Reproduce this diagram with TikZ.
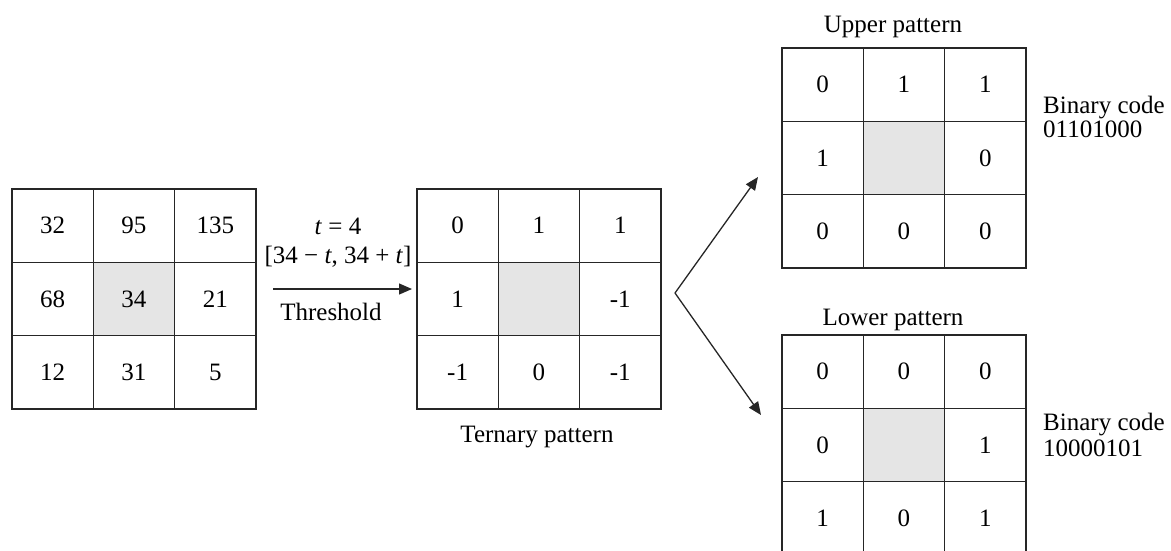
\documentclass[tikz,border=0pt]{standalone}
\usepackage{fontspec}
\setmainfont{Liberation Serif}
\usetikzlibrary{arrows.meta}
\begin{document}
\begin{tikzpicture}[x=1pt,y=-1pt,
  cell/.style={draw=black!85, line width=1.3pt, minimum width=81.3pt, minimum height=73.3pt, inner sep=0pt, font=\fontsize{25}{30}\selectfont},
  centre/.style={cell, fill=gray!20},
  lbl/.style={font=\fontsize{25}{30}\selectfont, inner sep=0pt},
  arr/.style={draw=black!85, line width=1.3pt, -{Triangle[length=13pt,width=11pt]}}]
\useasboundingbox (0,0) rectangle (1171,550);
\clip (0,0) rectangle (1171,550);
% input neighbourhood
\foreach \v [count=\k from 0] in {32,95,135,68,34,21,12,31,5}{
  \pgfmathtruncatemacro\c{mod(\k,3)}
  \pgfmathtruncatemacro\r{div(\k,3)}
  \def\st{cell}\ifnum\k=4 \def\st{centre}\fi
  \node[\st] (A\k) at ({12+40.65+81.3*\c},{189+36.65+73.3*\r}) {\v};
}
% ternary pattern
\foreach \v [count=\k from 0] in {0,1,1,1,{},-1,-1,0,-1}{
  \pgfmathtruncatemacro\c{mod(\k,3)}
  \pgfmathtruncatemacro\r{div(\k,3)}
  \def\st{cell}\ifnum\k=4 \def\st{centre}\fi
  \node[\st] (B\k) at ({417+40.65+81.3*\c},{189+36.65+73.3*\r}) {\v};
}
% upper pattern
\foreach \v [count=\k from 0] in {0,1,1,1,{},0,0,0,0}{
  \pgfmathtruncatemacro\c{mod(\k,3)}
  \pgfmathtruncatemacro\r{div(\k,3)}
  \def\st{cell}\ifnum\k=4 \def\st{centre}\fi
  \node[\st] (U\k) at ({782+40.65+81.3*\c},{48+36.65+73.3*\r}) {\v};
}
% lower pattern
\foreach \v [count=\k from 0] in {0,0,0,0,{},1,1,0,1}{
  \pgfmathtruncatemacro\c{mod(\k,3)}
  \pgfmathtruncatemacro\r{div(\k,3)}
  \def\st{cell}\ifnum\k=4 \def\st{centre}\fi
  \node[\st] (L\k) at ({782+40.65+81.3*\c},{335+36.65+73.3*\r}) {\v};
}
% threshold arrow
\coordinate (ts) at (273,289);
\coordinate (te) at (412,289);
\draw[arr] (ts) -- (te);
\node[lbl, anchor=base] (tval) at (338,234) {\textit{t} = 4};
\node[lbl, anchor=base] (intv) at (338,263) {[34 − \textit{t}, 34 + \textit{t}]};
\node[lbl, anchor=base] (thr) at (331,320) {Threshold};
\node[lbl, anchor=base] (tern) at (537,442) {Ternary pattern};
% split arrows
\coordinate (v) at (675,293);
\coordinate (ut) at (758,177);
\coordinate (lt) at (761,415);
\draw[arr] (v) -- (ut);
\draw[arr] (v) -- (lt);
% labels on the right
\node[lbl, anchor=base] (up) at (893,32) {Upper pattern};
\node[lbl, anchor=base] (lo) at (893,325) {Lower pattern};
\node[lbl, anchor=base west] (ub1) at (1043,113) {Binary code};
\node[lbl, anchor=base west] (ub2) at (1043,137) {01101000};
\node[lbl, anchor=base west] (lb1) at (1043,430) {Binary code};
\node[lbl, anchor=base west] (lb2) at (1043,456) {10000101};
\end{tikzpicture}
\end{document}
